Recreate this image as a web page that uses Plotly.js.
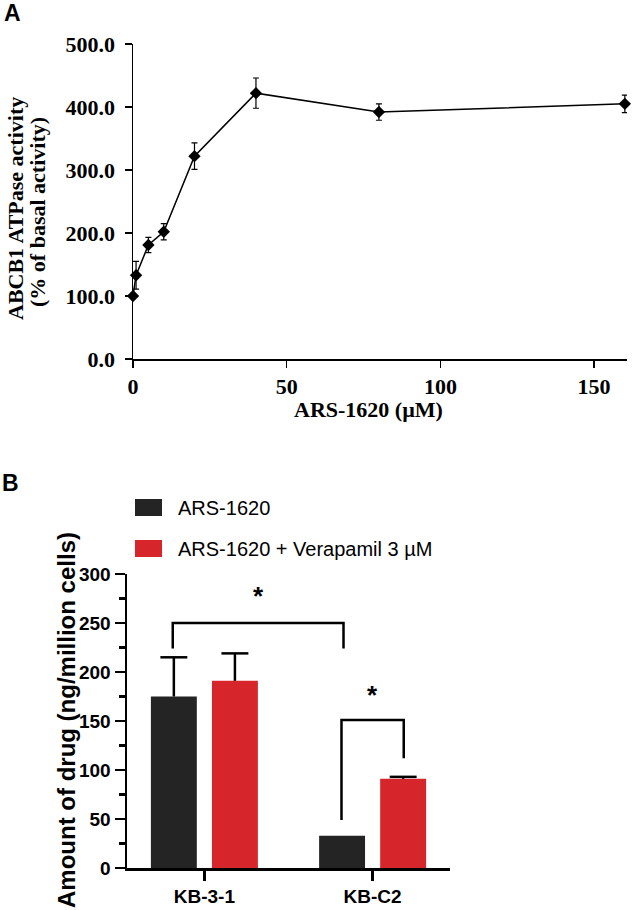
<!DOCTYPE html>
<html>
<head>
<meta charset="utf-8">
<script src="https://cdn.plot.ly/plotly-3.0.1.min.js"></script>
<style>
  html, body { margin: 0; padding: 0; background: #fff; }
  #chart { width: 633px; height: 910px; }
</style>
</head>
<body>
<div id="chart"></div>
<script>
// Panel A: ATPase activity vs ARS-1620 concentration
const concUM = [0, 1, 5, 10, 20, 40, 80, 160];
const activityPct = [100, 133, 181, 202, 322, 422, 392, 405];
const activitySem = [0, 22, 12, 13, 21, 24, 13, 14];

// Panel B: drug accumulation
const cellLines = ['KB-3-1', 'KB-C2'];
const arsAmount = [175, 33];
const arsErr = [40, 0];
const arsVerAmount = [191, 91];
const arsVerErr = [28, 2];
const seriesNames = ['ARS-1620', 'ARS-1620 + Verapamil 3 \u00b5M'];
const seriesColors = ['#242424', '#d7252c'];

// significance brackets: [xLeft, yLeftEnd, xRight, yRightEnd, yTop, starY]
const brackets = [
    [-0.188, 224, 0.827, 224, 250, 281],
    [0.815, 49, 1.185, 112, 151, 180]
];

const W = 633, H = 910;
const px = x => x / W;
const py = y => 1 - y / H;

const serif = 'Times New Roman, Liberation Serif, serif';
const sans = 'Arial, Liberation Sans, sans-serif';

const traces = [];

traces.push({
    x: concUM,
    y: activityPct,
    type: 'scatter',
    mode: 'lines+markers',
    line: { color: '#000', width: 1.5 },
    marker: { symbol: 'diamond', size: 9.5, color: '#000' },
    error_y: { type: 'data', array: activitySem, color: '#000', thickness: 1.2, width: 3 },
    cliponaxis: false,
    xaxis: 'x', yaxis: 'y',
    showlegend: false
});

const barWidth = 0.273;
const barOffsets = [-0.318, 0.045];
const capHalf = 0.08;
const barSeries = [
    { y: arsAmount, err: arsErr },
    { y: arsVerAmount, err: arsVerErr }
];

barSeries.forEach((s, i) => {
    traces.push({
        x: [0, 1],
        y: s.y,
        type: 'bar',
        width: barWidth,
        offset: barOffsets[i],
        marker: { color: seriesColors[i], line: { width: 0 } },
        xaxis: 'x2', yaxis: 'y2',
        showlegend: false
    });
});

// upper-only error bars (line + cap) for panel B
barSeries.forEach((s, i) => {
    const ex = [], ey = [];
    s.y.forEach((v, k) => {
        if (!s.err[k]) return;
        const xc = k + barOffsets[i] + barWidth / 2;
        const top = v + s.err[k];
        ex.push(xc, xc, null, xc - capHalf, xc + capHalf, null);
        ey.push(v, top, null, top, top, null);
    });
    traces.push({
        x: ex, y: ey,
        type: 'scatter', mode: 'lines',
        line: { color: '#000', width: 2.5 },
        cliponaxis: false,
        xaxis: 'x2', yaxis: 'y2',
        showlegend: false, hoverinfo: 'skip'
    });
});

brackets.forEach(b => {
    traces.push({
        x: [b[0], b[0], b[2], b[2]],
        y: [b[1], b[4], b[4], b[3]],
        type: 'scatter',
        mode: 'lines',
        line: { color: '#000', width: 2.5 },
        cliponaxis: false,
        xaxis: 'x2', yaxis: 'y2',
        showlegend: false,
        hoverinfo: 'skip'
    });
});

const annotations = [
    { text: 'A', x: px(12), y: py(13), font: { family: sans, size: 23, weight: 700, color: '#000' } },
    { text: 'B', x: px(10), y: py(483), font: { family: sans, size: 23, weight: 700, color: '#000' } },
    { text: 'ABCB1 ATPase activity', x: px(16), y: py(209), textangle: -90,
      font: { family: serif, size: 22, weight: 700, color: '#000' } },
    { text: '(% of basal activity)', x: px(37), y: py(212), textangle: -90,
      font: { family: serif, size: 22, weight: 700, color: '#000' } },
    { text: 'ARS-1620 (\u00b5M)', x: px(368), y: py(410),
      font: { family: serif, size: 22, weight: 700, color: '#000' } },
    { text: 'Amount of drug (ng/million cells)', x: px(66), y: py(720), textangle: -90,
      font: { family: sans, size: 24, weight: 700, color: '#000' } }
].map(a => Object.assign({ xref: 'paper', yref: 'paper', showarrow: false, xanchor: 'center', yanchor: 'middle' }, a));

brackets.forEach(b => {
    annotations.push({
        text: '*', xref: 'x2', yref: 'y2',
        x: (b[0] + b[2]) / 2, y: b[5], yshift: -3,
        showarrow: false, xanchor: 'center', yanchor: 'middle',
        font: { family: sans, size: 26, weight: 700, color: '#000' }
    });
});

// manual legend
const legendY = [508, 549];
const shapes = [];
seriesNames.forEach((name, i) => {
    shapes.push({
        type: 'rect', xref: 'paper', yref: 'paper',
        x0: px(135), x1: px(162), y0: py(legendY[i] - 9), y1: py(legendY[i] + 8),
        fillcolor: seriesColors[i], line: { width: 0 }
    });
    annotations.push({
        text: name, xref: 'paper', yref: 'paper', x: px(176), y: py(legendY[i]),
        xanchor: 'left', yanchor: 'middle', showarrow: false,
        font: { family: sans, size: 20, color: '#000' }
    });
});

const layout = {
    width: W,
    height: H,
    margin: { l: 0, r: 0, t: 0, b: 0 },
    paper_bgcolor: '#fff',
    plot_bgcolor: 'rgba(0,0,0,0)',
    showlegend: false,
    xaxis: {
        domain: [px(133), px(627)],
        range: [0, 160.7],
        tickvals: [0, 50, 100, 150],
        ticks: 'outside', ticklen: 7, tickwidth: 1.5, tickcolor: '#000',
        showline: true, linecolor: '#000', linewidth: 1.5,
        showgrid: false, zeroline: false,
        tickfont: { family: serif, size: 22, weight: 700, color: '#000' },
        anchor: 'y'
    },
    yaxis: {
        domain: [py(359), py(44)],
        range: [0, 500],
        dtick: 100,
        tickformat: '.1f',
        ticks: 'outside', ticklen: 7, tickwidth: 1.5, tickcolor: '#000',
        ticklabelstandoff: 5,
        showline: true, linecolor: '#000', linewidth: 1.5,
        showgrid: false, zeroline: false,
        tickfont: { family: serif, size: 22, weight: 700, color: '#000' },
        anchor: 'x'
    },
    xaxis2: {
        domain: [px(127), px(450)],
        range: [-0.46, 1.46],
        tickvals: [0, 1],
        ticktext: cellLines,
        ticks: 'outside', ticklen: 10, tickwidth: 2.5, tickcolor: '#000',
        showline: true, linecolor: '#000', linewidth: 2.5,
        showgrid: false, zeroline: false,
        tickfont: { family: sans, size: 19, weight: 700, color: '#000' },
        anchor: 'y2'
    },
    yaxis2: {
        domain: [py(868), py(574)],
        range: [0, 300],
        dtick: 50,
        ticks: 'outside', ticklen: 10, tickwidth: 2.5, tickcolor: '#000',
        minor: { dtick: 25, ticks: 'outside', ticklen: 6, tickwidth: 2.5, tickcolor: '#000' },
        showline: true, linecolor: '#000', linewidth: 2.5,
        showgrid: false, zeroline: false,
        tickfont: { family: sans, size: 19, weight: 700, color: '#000' },
        anchor: 'x2'
    },
    annotations: annotations,
    shapes: shapes
};

Plotly.newPlot('chart', traces, layout, { displayModeBar: false, staticPlot: true });
</script>
</body>
</html>
